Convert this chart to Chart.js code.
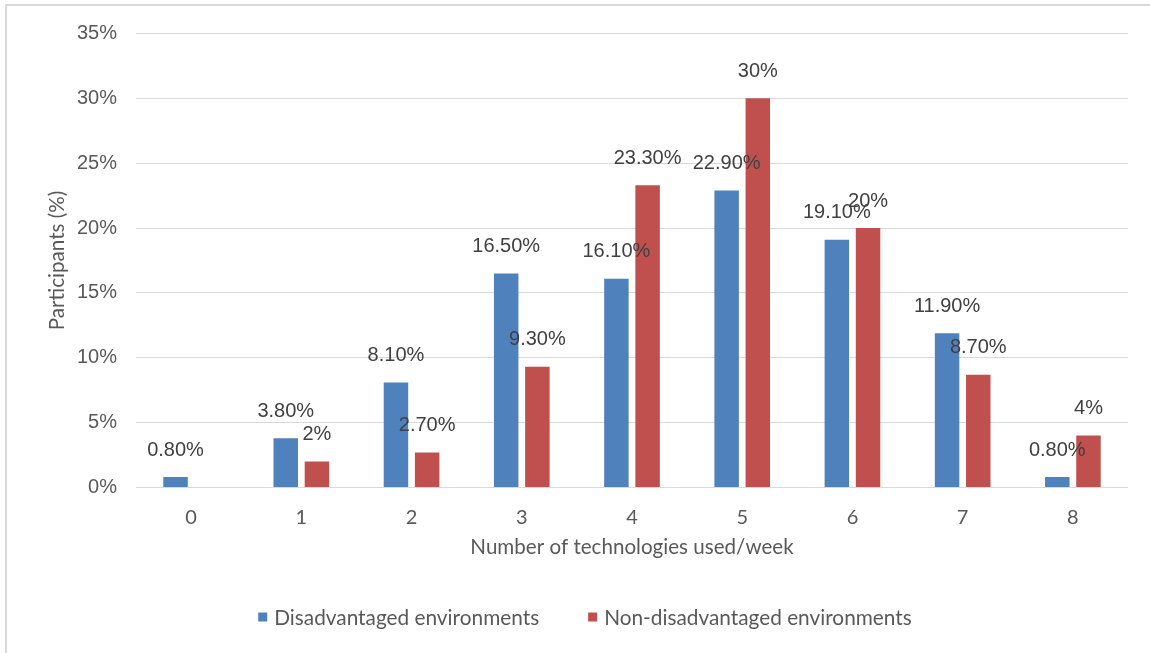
<!DOCTYPE html>
<html>
<head>
<meta charset="utf-8">
<script src="https://cdn.jsdelivr.net/npm/chart.js@4/dist/chart.umd.min.js"></script>
<style>
  html, body { margin: 0; padding: 0; background: #fff; overflow: hidden; }
  #wrap { position: relative; width: 1150px; height: 653px; }
  #frame { position: absolute; left: 5px; top: 4px; width: 1200px; height: 700px;
           border: 2px solid #d9d9d9; box-sizing: border-box; }
  canvas { position: absolute; left: 0; top: 0; }
</style>
</head>
<body>
<div id="wrap">
  <div id="frame"></div>
  <canvas id="chart" width="1150" height="653"></canvas>
</div>
<script>
// Share of participants by number of technologies used per week
const categories = ['0', '1', '2', '3', '4', '5', '6', '7', '8'];
const disadvantaged = [0.8, 3.8, 8.1, 16.5, 16.1, 22.9, 19.1, 11.9, 0.8];
const nonDisadvantaged = [null, 2, 2.7, 9.3, 23.3, 30, 20, 8.7, 4];
const seriesNames = ['Disadvantaged environments', 'Non-disadvantaged environments'];
const yTicks = [0, 5, 10, 15, 20, 25, 30, 35];

const BLUE = '#4f81bd';
const RED = '#c0504d';
const TEXT = '#595959';
const LATO = 'Lato, "Open Sans", sans-serif';
const ARIAL = '"Liberation Sans", Arial, sans-serif';

const fmt = v => (Number.isInteger(v) ? v : v.toFixed(2)) + '%';

// Value labels above each bar
const barLabels = {
  id: 'barLabels',
  afterDatasetsDraw(chart) {
    const ctx = chart.ctx;
    ctx.save();
    ctx.font = '20px ' + ARIAL;
    ctx.fillStyle = '#404040';
    ctx.textAlign = 'center';
    ctx.textBaseline = 'middle';
    chart.data.datasets.forEach((ds, i) => {
      chart.getDatasetMeta(i).data.forEach((bar, j) => {
        const v = ds.data[j];
        if (v == null) return;
        ctx.fillText(fmt(v), bar.x, bar.y - 27);
      });
    });
    ctx.restore();
  }
};

// Legend row under the axis title
const bottomLegend = {
  id: 'bottomLegend',
  afterDraw(chart) {
    const ctx = chart.ctx;
    ctx.save();
    ctx.font = '20.8px ' + LATO;
    ctx.textBaseline = 'middle';
    ctx.textAlign = 'left';
    const box = 9, gap = 7, spacing = 49, cy = 617, cx = 585;
    const items = chart.data.datasets.map(ds => ({
      text: ds.label, color: ds.backgroundColor, w: ctx.measureText(ds.label).width
    }));
    const total = items.reduce((s, it) => s + box + gap + it.w, 0) + spacing * (items.length - 1);
    let x = cx - total / 2;
    items.forEach(it => {
      ctx.fillStyle = it.color;
      ctx.fillRect(x, cy - box / 2, box, box);
      ctx.fillStyle = TEXT;
      ctx.fillText(it.text, x + box + gap, cy + 1);
      x += box + gap + it.w + spacing;
    });
    ctx.restore();
  }
};

new Chart(document.getElementById('chart'), {
  type: 'bar',
  data: {
    labels: categories,
    datasets: [
      { label: seriesNames[0], data: disadvantaged, backgroundColor: BLUE,
        categoryPercentage: 0.566, barPercentage: 0.785 },
      { label: seriesNames[1], data: nonDisadvantaged, backgroundColor: RED,
        categoryPercentage: 0.566, barPercentage: 0.785 }
    ]
  },
  options: {
    responsive: false,
    animation: false,
    layout: { padding: { left: 0, right: 22, top: 33.5, bottom: 93.5 } },
    plugins: { legend: { display: false }, tooltip: { enabled: false } },
    scales: {
      x: {
        grid: { display: false, drawTicks: false },
        border: { display: false },
        ticks: { font: { family: LATO, size: 20 }, color: TEXT, padding: 18.5 },
        title: { display: true, text: 'Number of technologies used/week',
                 font: { family: LATO, size: 20.6 }, color: TEXT, padding: { top: 0, bottom: 0 } },
        afterFit(s) { s.height = 72; }
      },
      y: {
        min: 0, max: 35,
        afterBuildTicks(s) { s.ticks = yTicks.map(v => ({ value: v })); },
        ticks: { callback: v => v + '%', font: { family: ARIAL, size: 20 }, color: TEXT, padding: 19 },
        grid: { color: '#d9d9d9', lineWidth: 1, drawTicks: false },
        border: { display: false },
        title: { display: true, text: 'Participants (%)',
                 font: { family: LATO, size: 20.6 }, color: TEXT, padding: { top: 44.6, bottom: 0 } },
        afterFit(s) { s.width = 136; }
      }
    }
  },
  plugins: [barLabels, bottomLegend]
});
</script>
</body>
</html>
